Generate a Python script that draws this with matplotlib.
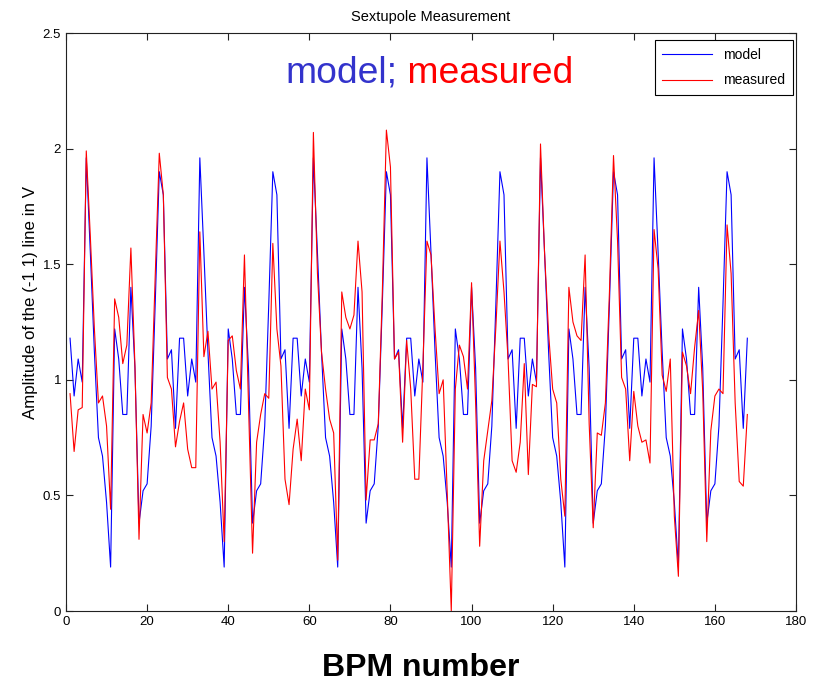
import matplotlib
matplotlib.use("Agg")
import matplotlib.pyplot as plt
import numpy as np

plt.rcParams['font.family'] = ['Liberation Sans', 'DejaVu Sans']

bpm = list(range(1, 169))

# model: one lattice cell repeats six times
model = [
    1.18, 0.93, 1.09, 0.99, 1.96, 1.55, 1.12, 0.75, 0.67, 0.47, 0.19, 1.22, 1.09, 0.85,
    0.85, 1.40, 1.05, 0.38, 0.52, 0.55, 0.80, 1.33, 1.90, 1.80, 1.09, 1.13, 0.79, 1.18,
    1.18, 0.93, 1.09, 0.99, 1.96, 1.55, 1.12, 0.75, 0.67, 0.47, 0.19, 1.22, 1.09, 0.85,
    0.85, 1.40, 1.05, 0.38, 0.52, 0.55, 0.80, 1.33, 1.90, 1.80, 1.09, 1.13, 0.79, 1.18,
    1.18, 0.93, 1.09, 0.99, 1.96, 1.55, 1.12, 0.75, 0.67, 0.47, 0.19, 1.22, 1.09, 0.85,
    0.85, 1.40, 1.05, 0.38, 0.52, 0.55, 0.80, 1.33, 1.90, 1.80, 1.09, 1.13, 0.79, 1.18,
    1.18, 0.93, 1.09, 0.99, 1.96, 1.55, 1.12, 0.75, 0.67, 0.47, 0.19, 1.22, 1.09, 0.85,
    0.85, 1.40, 1.05, 0.38, 0.52, 0.55, 0.80, 1.33, 1.90, 1.80, 1.09, 1.13, 0.79, 1.18,
    1.18, 0.93, 1.09, 0.99, 1.96, 1.55, 1.12, 0.75, 0.67, 0.47, 0.19, 1.22, 1.09, 0.85,
    0.85, 1.40, 1.05, 0.38, 0.52, 0.55, 0.80, 1.33, 1.90, 1.80, 1.09, 1.13, 0.79, 1.18,
    1.18, 0.93, 1.09, 0.99, 1.96, 1.55, 1.12, 0.75, 0.67, 0.47, 0.19, 1.22, 1.09, 0.85,
    0.85, 1.40, 1.05, 0.38, 0.52, 0.55, 0.80, 1.33, 1.90, 1.80, 1.09, 1.13, 0.79, 1.18,
]

measured = [
    0.94, 0.69, 0.87, 0.88, 1.99, 1.62, 1.22, 0.90, 0.93, 0.80, 0.44, 1.35, 1.27, 1.07,
    1.15, 1.57, 1.06, 0.31, 0.85, 0.77, 0.90, 1.45, 1.98, 1.80, 1.01, 0.96, 0.71, 0.82,
    0.90, 0.70, 0.62, 0.62, 1.64, 1.10, 1.21, 0.96, 0.99, 0.73, 0.30, 1.17, 1.19, 1.04,
    0.96, 1.54, 0.90, 0.25, 0.73, 0.85, 0.94, 0.92, 1.59, 1.22, 1.06, 0.57, 0.46, 0.70,
    0.83, 0.65, 0.96, 0.87, 2.07, 1.46, 1.12, 0.96, 0.83, 0.77, 0.22, 1.38, 1.27, 1.22,
    1.28, 1.60, 1.38, 0.48, 0.74, 0.74, 0.81, 1.38, 2.08, 1.92, 1.09, 1.12, 0.73, 1.17,
    0.96, 0.57, 0.57, 1.06, 1.60, 1.54, 1.22, 0.94, 1.00, 0.51, 0.00, 0.96, 1.15, 1.10,
    0.96, 1.42, 0.90, 0.28, 0.65, 0.78, 0.91, 1.23, 1.60, 1.38, 1.09, 0.65, 0.60, 0.73,
    1.07, 0.59, 0.98, 0.97, 2.02, 1.55, 1.20, 0.96, 0.90, 0.57, 0.41, 1.40, 1.25, 1.19,
    1.17, 1.54, 0.81, 0.36, 0.77, 0.76, 0.90, 1.38, 1.97, 1.60, 1.01, 0.96, 0.65, 0.95,
    0.80, 0.73, 0.74, 0.64, 1.65, 1.48, 1.02, 0.95, 1.09, 0.41, 0.15, 1.12, 1.06, 0.94,
    1.14, 1.30, 0.95, 0.30, 0.78, 0.93, 0.96, 0.94, 1.67, 1.46, 0.90, 0.56, 0.54, 0.85,
]

xticks = [0, 20, 40, 60, 80, 100, 120, 140, 160, 180]
yticks = [0, 0.5, 1, 1.5, 2, 2.5]
ytick_labels = ["0", "0.5", "1", "1.5", "2", "2.5"]

fig = plt.figure(figsize=(8.21, 6.84), dpi=100)
ax = fig.add_axes([66/821, 73/684, 730/821, 578/684])

ax.plot(bpm, model, color='#0000ff', lw=0.8, label='model')
ax.plot(bpm, measured, color='#ff0000', lw=0.8, label='measured')

ax.set_xlim(0, 180)
ax.set_ylim(0, 2.5)
ax.set_xticks(xticks)
ax.set_yticks(yticks)
ax.set_yticklabels(ytick_labels)
ax.tick_params(direction='in', top=True, right=True, length=5, width=0.8,
               labelsize=9.5, colors='#222222', labelcolor='black')
for s in ax.spines.values():
    s.set_linewidth(0.8)
    s.set_color('#222222')

ax.set_title("Sextupole Measurement", fontsize=10.5, pad=9)
ax.set_ylabel("Amplitude of the (-1 1) line in V", fontsize=12.2)
ax.yaxis.set_label_coords(-0.038, 0.533)
fig.text(421/821, 1 - 668/684, "BPM number", fontsize=23, fontweight='bold',
         ha='center', va='center')

t1 = ax.text(54, 2.285, "model;", color='#3333cc', fontsize=26.8)
ax.annotate(" measured", xycoords=t1, xy=(1, 0), va='bottom', color='#ff0000', fontsize=26.8)

leg = ax.legend(loc='upper right', fontsize=10, fancybox=False, framealpha=1,
                edgecolor='black', handlelength=3.6, borderpad=0.55,
                labelspacing=0.85, borderaxespad=0,
                bbox_to_anchor=(0.996, 0.988))
leg.get_frame().set_linewidth(0.8)

plt.savefig("out.png", dpi=100)
